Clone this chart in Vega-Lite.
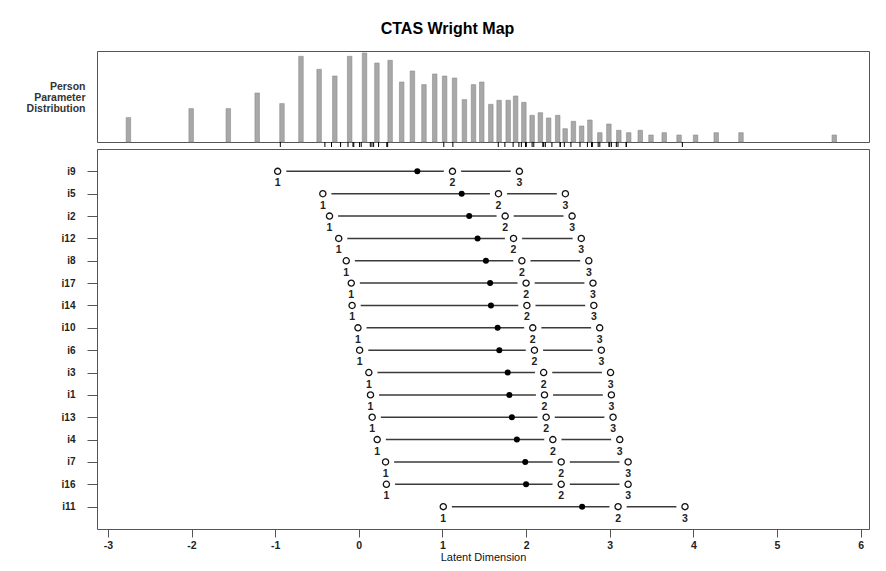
{
  "$schema": "https://vega.github.io/schema/vega-lite/v6.json",
  "padding": {"left": 25, "top": 20, "right": 17, "bottom": 8},
  "background": "white",
  "title": {"text": "CTAS Wright Map", "fontSize": 16, "fontWeight": "bold", "font": "Liberation Sans", "color": "#000", "anchor": "middle", "offset": 14},
  "datasets": {
    "hist": [
      {"theta": -2.81, "freq": 24.4}, {"theta": -2.05, "freq": 33.4}, {"theta": -1.60, "freq": 33.4},
      {"theta": -1.25, "freq": 49.0}, {"theta": -0.95, "freq": 38.4}, {"theta": -0.72, "freq": 85.7},
      {"theta": -0.50, "freq": 72.7}, {"theta": -0.31, "freq": 66.0}, {"theta": -0.13, "freq": 85.7},
      {"theta": 0.05, "freq": 89.0}, {"theta": 0.20, "freq": 79.0}, {"theta": 0.36, "freq": 81.7},
      {"theta": 0.50, "freq": 60.0}, {"theta": 0.63, "freq": 71.0}, {"theta": 0.77, "freq": 57.4},
      {"theta": 0.90, "freq": 68.0}, {"theta": 1.02, "freq": 66.0}, {"theta": 1.14, "freq": 64.0},
      {"theta": 1.26, "freq": 42.4}, {"theta": 1.37, "freq": 57.4}, {"theta": 1.47, "freq": 60.0},
      {"theta": 1.58, "freq": 37.7}, {"theta": 1.68, "freq": 41.7}, {"theta": 1.79, "freq": 41.7},
      {"theta": 1.88, "freq": 46.0}, {"theta": 1.98, "freq": 39.7}, {"theta": 2.08, "freq": 26.7},
      {"theta": 2.18, "freq": 29.3}, {"theta": 2.28, "freq": 24.0}, {"theta": 2.39, "freq": 26.7},
      {"theta": 2.48, "freq": 13.3}, {"theta": 2.58, "freq": 20.7}, {"theta": 2.68, "freq": 16.0},
      {"theta": 2.78, "freq": 22.0}, {"theta": 2.90, "freq": 9.3}, {"theta": 3.01, "freq": 18.0},
      {"theta": 3.13, "freq": 11.7}, {"theta": 3.25, "freq": 9.3}, {"theta": 3.39, "freq": 11.7},
      {"theta": 3.52, "freq": 7.0}, {"theta": 3.68, "freq": 9.3}, {"theta": 3.86, "freq": 7.0},
      {"theta": 4.06, "freq": 7.0}, {"theta": 4.31, "freq": 9.3}, {"theta": 4.61, "freq": 9.3},
      {"theta": 5.74, "freq": 7.0}
    ],
    "items": [
      {"item": "i9", "loc": 0.70, "1": -0.97, "2": 1.12, "3": 1.92},
      {"item": "i5", "loc": 1.23, "1": -0.43, "2": 1.67, "3": 2.47},
      {"item": "i2", "loc": 1.32, "1": -0.35, "2": 1.75, "3": 2.55},
      {"item": "i12", "loc": 1.42, "1": -0.24, "2": 1.85, "3": 2.66},
      {"item": "i8", "loc": 1.52, "1": -0.15, "2": 1.95, "3": 2.75},
      {"item": "i17", "loc": 1.57, "1": -0.09, "2": 2.00, "3": 2.80},
      {"item": "i14", "loc": 1.58, "1": -0.08, "2": 2.01, "3": 2.81},
      {"item": "i10", "loc": 1.66, "1": -0.01, "2": 2.08, "3": 2.88},
      {"item": "i6", "loc": 1.68, "1": 0.01, "2": 2.10, "3": 2.90},
      {"item": "i3", "loc": 1.78, "1": 0.12, "2": 2.21, "3": 3.01},
      {"item": "i1", "loc": 1.80, "1": 0.14, "2": 2.22, "3": 3.02},
      {"item": "i13", "loc": 1.83, "1": 0.16, "2": 2.24, "3": 3.04},
      {"item": "i4", "loc": 1.89, "1": 0.22, "2": 2.32, "3": 3.12},
      {"item": "i7", "loc": 1.99, "1": 0.32, "2": 2.42, "3": 3.22},
      {"item": "i16", "loc": 2.00, "1": 0.33, "2": 2.42, "3": 3.22},
      {"item": "i11", "loc": 2.67, "1": 1.01, "2": 3.10, "3": 3.90}
    ]
  },
  "spacing": 0,
  "vconcat": [
    {
      "width": 772,
      "height": 91,
      "layer": [
        {
          "data": {"name": "hist"},
          "mark": {"type": "bar", "width": 4.5, "fill": "#a8a8a8", "stroke": "#8a8a8a", "strokeWidth": 0.6},
          "encoding": {
            "x": {"field": "theta", "type": "quantitative", "scale": {"domain": [-3.13, 6.1], "nice": false, "zero": false}, "axis": null},
            "y": {"field": "freq", "type": "quantitative", "scale": {"domain": [0, 91], "nice": false},
              "axis": {"title": ["Person", "Parameter", "Distribution"], "titleAngle": 0, "titleAlign": "right", "titleBaseline": "top",
                "titleX": -12, "titleY": 30, "titleLineHeight": 11, "titleFontSize": 10.5, "titleFontWeight": "bold", "titleColor": "#333",
                "labels": false, "ticks": false, "domain": false, "grid": false}}
          }
        },
        {
          "data": {"name": "items"},
          "transform": [{"fold": ["1", "2", "3"], "as": ["step", "x"]}],
          "mark": {"type": "rule", "color": "#000", "strokeWidth": 1},
          "encoding": {
            "x": {"field": "x", "type": "quantitative"},
            "y": {"datum": 0},
            "y2": {"datum": -5}
          }
        }
      ]
    },
    {
      "width": 772,
      "height": 380,
      "data": {"name": "items"},
      "encoding": {
        "y": {"field": "item", "type": "ordinal",
          "scale": {"type": "point", "domain": ["i9", "i5", "i2", "i12", "i8", "i17", "i14", "i10", "i6", "i3", "i1", "i13", "i4", "i7", "i16", "i11"], "padding": 1.69},
          "axis": {"title": null, "tickSize": 10, "tickColor": "#555", "domain": false, "grid": false, "labelFontSize": 10, "labelFontWeight": "bold", "labelPadding": 12, "labelColor": "#222"}}
      },
      "layer": [
        {
          "mark": {"type": "rule", "color": "#3a3a3a", "strokeWidth": 1.5},
          "encoding": {
            "x": {"field": "1", "type": "quantitative", "scale": {"domain": [-3.13, 6.1], "nice": false, "zero": false},
              "axis": {"title": "Latent Dimension", "values": [-3, -2, -1, 0, 1, 2, 3, 4, 5, 6], "labelExpr": "'' + datum.value",
                "tickSize": 8, "tickColor": "#555", "domain": false, "grid": false, "labelFontSize": 10.5, "labelFontWeight": "bold",
                "labelColor": "#222", "labelPadding": 3, "titleFontSize": 11, "titleFontWeight": "normal", "titlePadding": 1, "titleColor": "#111"}},
            "x2": {"field": "2"}
          }
        },
        {
          "mark": {"type": "rule", "color": "#3a3a3a", "strokeWidth": 1.5},
          "encoding": {
            "x": {"field": "2", "type": "quantitative"},
            "x2": {"field": "3"}
          }
        },
        {
          "transform": [{"fold": ["1", "2", "3"], "as": ["step", "x"]}],
          "mark": {"type": "point", "shape": "circle", "filled": true, "color": "white", "opacity": 1, "size": 300},
          "encoding": {"x": {"field": "x", "type": "quantitative"}}
        },
        {
          "transform": [{"fold": ["1", "2", "3"], "as": ["step", "x"]}],
          "mark": {"type": "point", "shape": "circle", "filled": false, "stroke": "#111", "strokeWidth": 1.3, "fill": "white", "opacity": 1, "size": 38},
          "encoding": {"x": {"field": "x", "type": "quantitative"}}
        },
        {
          "mark": {"type": "point", "shape": "circle", "filled": true, "color": "#000", "opacity": 1, "size": 36},
          "encoding": {"x": {"field": "loc", "type": "quantitative"}}
        },
        {
          "transform": [{"fold": ["1", "2", "3"], "as": ["step", "x"]}],
          "mark": {"type": "text", "dy": 12, "fontSize": 10.5, "fontWeight": "bold", "color": "#222"},
          "encoding": {"x": {"field": "x", "type": "quantitative"}, "text": {"field": "step"}}
        }
      ]
    }
  ],
  "config": {
    "font": "Liberation Sans",
    "view": {"stroke": "#555", "strokeWidth": 1}
  }
}
